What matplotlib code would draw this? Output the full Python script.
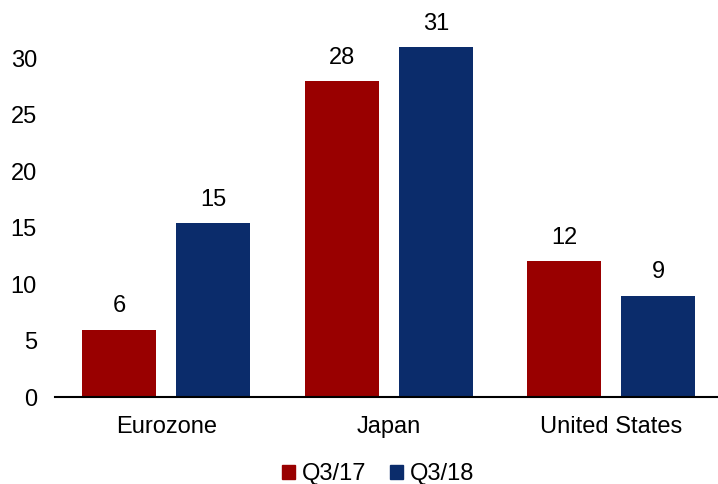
import numpy as np
import matplotlib.pyplot as plt
from matplotlib.patches import Patch

plt.rcParams['font.family'] = ['Liberation Sans', 'DejaVu Sans']

regions = ['Eurozone', 'Japan', 'United States']
q3_17 = [5.95, 28.0, 12.05]
q3_18 = [15.4, 31.0, 8.95]
series_names = ['Q3/17', 'Q3/18']
colors = ['#990000', '#0B2C6B']

fig = plt.figure(figsize=(7.18, 4.84), dpi=100)
ax = fig.add_axes([55 / 718, 87 / 484, 663 / 718, 395 / 484])

x = np.arange(len(regions))
w = 0.333
offset = 0.212

b1 = ax.bar(x - offset, q3_17, w, color=colors[0])
b2 = ax.bar(x + offset, q3_18, w, color=colors[1])
for bars in (b1, b2):
    ax.bar_label(bars, fmt='%.0f', padding=9, fontsize=17)

ax.set_xlim(-0.5, 2.48)
ax.set_ylim(0, 35)
ax.set_yticks(np.arange(0, 31, 5))
ax.set_xticks(x)
ax.set_xticklabels(regions)
ax.tick_params(axis='both', length=0, labelsize=17)
ax.tick_params(axis='y', pad=13)
ax.tick_params(axis='x', pad=14)

for side in ['top', 'right', 'left']:
    ax.spines[side].set_visible(False)
ax.spines['bottom'].set_linewidth(1.5)

handles = [Patch(color=c) for c in colors]
fig.legend(handles, series_names, loc='center', bbox_to_anchor=(0.527, 0.02),
           ncol=2, frameon=False, fontsize=17, handlelength=0.55, handleheight=0.55,
           handletextpad=0.3, columnspacing=1.0)

fig.savefig('out.png', dpi=100)
